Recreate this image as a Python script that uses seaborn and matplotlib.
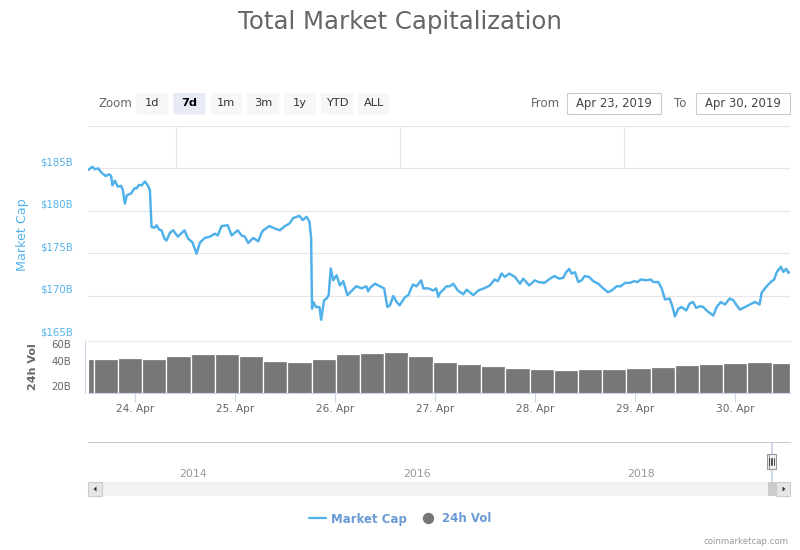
import numpy as np
import pandas as pd
import matplotlib
matplotlib.use("Agg")
import matplotlib.pyplot as plt
import matplotlib.dates as mdates
import matplotlib.patches as mpatches
from matplotlib.lines import Line2D
from matplotlib.ticker import FixedLocator, NullLocator
from matplotlib.transforms import Affine2D, blended_transform_factory, ScaledTranslation
import seaborn as sns

# ---------------- data ----------------
base_date = "2019-04-23"
mcap_hours = [12.65, 13.7, 14.3, 15.1, 15.9, 16.9, 17.7, 18.2, 18.5, 19.1,
              19.8, 20.6, 21.0, 21.5, 22.0, 23.0, 23.8, 24.3, 24.9, 25.5,
              26.3, 27.0, 27.5, 27.9, 28.6, 29.1, 29.7, 30.3, 31.0, 31.5,
              32.3, 33.1, 34.2, 35.8, 36.7, 37.7, 38.7, 39.5, 40.7, 41.9,
              43.1, 43.8, 44.7, 46.2, 47.1, 48.6, 49.5, 50.3, 51.1, 52.3,
              53.5, 54.3, 54.7, 56.2, 57.5, 58.7, 59.9, 61.0, 61.9, 63.4,
              64.2, 65.1, 65.8, 66.2, 66.4, 66.7, 67.4, 68.2, 68.6, 69.3,
              69.9, 70.4, 70.9, 71.5, 72.3, 73.1, 73.9, 74.9, 75.7, 77.0,
              78.3, 79.4, 79.9, 80.3, 81.5, 82.7, 83.7, 84.5, 85.1, 85.9,
              86.7, 87.4, 88.7, 89.5, 90.6, 91.5, 92.6, 93.1, 94.3, 95.5,
              96.2, 96.7, 97.1, 97.7, 98.7, 99.5, 100.3, 101.4, 102.7, 103.5,
              105.1, 106.3, 107.9, 109.1, 110.2, 111.0, 111.9, 112.7, 113.7, 115.1,
              116.3, 117.1, 118.5, 119.9, 120.7, 122.2, 123.5, 124.6, 125.7, 126.7,
              127.3, 128.1, 128.7, 129.5, 130.3, 131.1, 131.8, 132.9, 133.9, 135.1,
              136.3, 137.4, 138.3, 139.5, 140.5, 141.5, 142.7, 143.7, 144.5, 145.3,
              146.6, 147.7, 148.3, 149.5, 150.3, 151.1, 152.2, 152.8, 153.5, 154.3,
              155.1, 156.2, 157.0, 157.8, 158.6, 159.5, 160.3, 161.3, 162.7, 163.5,
              164.5, 165.5, 166.6, 167.5, 168.3, 169.1, 170.3, 171.5, 172.7, 173.8,
              174.3, 175.5, 176.7, 177.3, 177.9, 178.9, 179.5, 180.2, 180.7, 181.1]
mcap_values = [184.8, 185.2, 184.9, 185.0, 184.5, 184.1, 184.3, 184.1, 183.0, 183.55,
               182.85, 182.95, 182.45, 180.85, 181.85, 182.05, 182.65, 182.65, 183.05, 183.0,
               183.45, 183.0, 182.45, 178.1, 178.0, 178.3, 177.8, 177.7, 176.7, 176.5,
               177.4, 177.7, 176.95, 177.7, 176.7, 176.3, 174.95, 176.25, 176.8, 176.95,
               177.3, 177.1, 178.2, 178.3, 177.1, 177.7, 177.1, 176.95, 176.2, 176.8,
               176.4, 177.4, 177.7, 178.2, 177.9, 177.7, 178.2, 178.5, 179.15, 179.4,
               178.9, 179.3, 178.7, 176.7, 168.45, 169.25, 168.65, 168.65, 167.15, 169.45,
               169.65, 170.05, 173.2, 171.8, 172.4, 171.2, 171.7, 170.05, 170.45, 171.1,
               170.85, 171.1, 170.5, 170.9, 171.4, 171.1, 170.85, 168.65, 168.85, 169.95,
               169.25, 168.85, 169.8, 170.05, 171.3, 171.1, 171.8, 170.85, 170.85, 170.6,
               170.85, 169.85, 170.3, 170.6, 171.1, 171.1, 171.4, 170.6, 170.15, 170.7,
               170.05, 170.6, 170.9, 171.2, 171.9, 171.7, 172.6, 172.2, 172.6, 172.2,
               171.4, 172.0, 171.2, 171.8, 171.6, 171.5, 172.0, 172.3, 172.0, 172.1,
               172.7, 173.15, 172.6, 172.75, 171.6, 171.8, 172.3, 172.2, 171.7, 171.4,
               170.85, 170.4, 170.6, 171.1, 171.1, 171.5, 171.5, 171.7, 171.6, 171.9,
               171.8, 171.9, 171.6, 171.6, 170.85, 169.55, 169.65, 168.85, 167.55, 168.45,
               168.65, 168.25, 169.05, 169.25, 168.55, 168.75, 168.65, 168.15, 167.65, 168.65,
               169.25, 168.95, 169.65, 169.45, 168.85, 168.35, 168.65, 168.95, 169.25, 168.95,
               170.35, 171.1, 171.7, 171.9, 172.75, 173.4, 172.8, 173.15, 172.7, 172.75]

vol_start_hours = [12.65, 14.16, 19.92, 25.68, 31.44, 37.37, 43.13, 48.89, 54.65, 60.41,
                   66.48, 72.24, 78.0, 83.76, 89.52, 95.52, 101.28, 107.04, 112.8, 118.73,
                   124.49, 130.25, 136.0, 141.77, 147.84, 153.6, 159.36, 165.12, 170.88, 176.8]
vol_end_hour = 181.1
vol_values = [47.4, 47.0, 48.3, 47.2, 49.8, 51.0, 51.0, 50.0, 45.6, 44.8,
              47.5, 51.2, 51.7, 52.5, 49.5, 44.8, 43.2, 41.6, 40.3, 39.5,
              38.7, 39.2, 39.5, 40.0, 41.0, 42.7, 43.0, 44.0, 44.8, 44.3]

view_start_hour = 12.65
view_end_hour = 181.1
day_ticks = ["2019-04-24", "2019-04-25", "2019-04-26", "2019-04-27",
             "2019-04-28", "2019-04-29", "2019-04-30"]
mcap_ticks = [165, 170, 175, 180, 185, 190]
mcap_tick_labels = ["$165B", "$170B", "$175B", "$180B", "$185B", ""]
mcap_range = (165, 190)
vol_ticks = [20, 40, 60]
vol_tick_labels = ["20B", "40B", "60B"]
vol_range = (20, 61.6)
nav_range = ("2013-03-20", "2019-06-26")
nav_year_ticks = ["2014-01-01", "2016-01-01", "2018-01-01"]
nav_year_labels = ["2014", "2016", "2018"]
zoom_buttons = ["1d", "7d", "1m", "3m", "1y", "YTD", "ALL"]
selected_button = "7d"
range_from = "Apr 23, 2019"
range_to = "Apr 30, 2019"
title = "Total Market Capitalization"

# ---------------- style ----------------
sns.set_theme(style="white")
plt.rcParams["font.family"] = ["DejaVu Sans"]
BLUE = "#4fb0ea"
TICKBLUE = "#55b3ea"
GRAY_BAR = "#777777"
GRID = "#e6e6e6"
AXLINE = "#ccd6eb"
TXT = "#666666"

W, H = 800, 550
fig = plt.figure(figsize=(W / 100, H / 100), dpi=100)
PX = Affine2D().scale(1 / 100, -1 / 100).translate(0, H / 100) + fig.dpi_scale_trans


def box(x0, y0, x1, y1):
    return [x0 / W, 1 - y1 / H, (x1 - x0) / W, (y1 - y0) / H]


base = pd.Timestamp(base_date)


def hours_to_num(hrs):
    ts = base + pd.to_timedelta(np.asarray(hrs, dtype=float), unit="h")
    return mdates.date2num(ts.to_pydatetime())


def dates_to_num(ds):
    return mdates.date2num(pd.to_datetime(ds).to_pydatetime())


xlim = hours_to_num([view_start_hour, view_end_hour])

# ---------------- main pane ----------------
ax = fig.add_axes(box(88, 126, 790, 338))
df = pd.DataFrame({"time": hours_to_num(mcap_hours), "Market Cap": mcap_values})
sns.lineplot(data=df, x="time", y="Market Cap", ax=ax, color=BLUE,
             linewidth=1.75, sort=False, zorder=3)
ax.set_xlim(*xlim)
ax.set_ylim(*mcap_range)
ax.set_yticks(mcap_ticks)
ax.yaxis.grid(True, color=GRID, linewidth=0.8)
ax.xaxis.grid(False)
ax.tick_params(axis="y", left=False, labelleft=False)
ax.tick_params(axis="x", bottom=False, labelbottom=False)
ax.set_xlabel("")
ax.set_ylabel("")
for s in ax.spines.values():
    s.set_visible(False)
lab_tr = blended_transform_factory(ax.transAxes, ax.transData) + \
    ScaledTranslation(0, 6 / 100, fig.dpi_scale_trans)
for v, lab in zip(mcap_ticks, mcap_tick_labels):
    ax.text(-15 / 702, v, lab, transform=lab_tr, ha="right", va="center",
            color=TICKBLUE, fontsize=7.3)

# ---------------- volume pane ----------------
axv = fig.add_axes(box(88, 341, 790, 393))
vstarts = hours_to_num(vol_start_hours)
vends = hours_to_num(list(vol_start_hours[1:]) + [vol_end_hour])
axv.bar(vstarts, vol_values, width=vends - vstarts, align="edge",
        color=GRAY_BAR, edgecolor="white", linewidth=0.9)
axv.set_xlim(*xlim)
axv.set_ylim(*vol_range)
axv.yaxis.set_major_locator(NullLocator())
axv.xaxis.set_major_locator(FixedLocator(dates_to_num(day_ticks)))
axv.xaxis.set_major_formatter(mdates.DateFormatter("%d. %b"))
axv.tick_params(axis="x", bottom=True, length=6.5, width=0.8, color=AXLINE,
                labelsize=7.6, labelcolor=TXT, pad=1.5, direction="out")
axv.grid(False)
for k, s in axv.spines.items():
    s.set_visible(k in ("top", "left", "bottom"))
    s.set_linewidth(0.8)
axv.spines["top"].set_color(GRID)
axv.spines["left"].set_color(AXLINE)
axv.spines["bottom"].set_color(AXLINE)
axv.spines["left"].set_position(("outward", 2))
fig.canvas.draw()
top_px = axv.transAxes.transform((0, 1))[1]
for v, lab in zip(vol_ticks, vol_tick_labels):
    ypix = axv.transData.transform((xlim[0], v))[1] + 6
    ypix = min(ypix, top_px - 4)
    fig.text(71 / W, ypix / H, lab, ha="right", va="center", color=TXT, fontsize=7.3)

# ---------------- axis titles ----------------
fig.text(22.5, 234.5, "Market Cap", transform=PX, rotation=90, ha="center",
         va="center", color=TICKBLUE, fontsize=9.2)
fig.text(33.5, 366.5, "24h Vol", transform=PX, rotation=90, ha="center",
         va="center", color=TXT, fontsize=8.0, fontweight="bold")

# ---------------- navigator ----------------
axn = fig.add_axes(box(88, 442, 790, 482))
nav_lim = dates_to_num(list(nav_range))
axn.set_xlim(*nav_lim)
axn.set_ylim(0, 1)
axn.set_xticks([])
axn.set_yticks([])
for k, s in axn.spines.items():
    s.set_visible(k == "top")
axn.spines["top"].set_color("#cccccc")
axn.spines["top"].set_linewidth(0.8)
yr_nums = dates_to_num(nav_year_ticks)
yr_tr = blended_transform_factory(axn.transData, axn.transAxes) + \
    ScaledTranslation(3 / 100, 0, fig.dpi_scale_trans)
for xn, lab in zip(yr_nums, nav_year_labels):
    axn.text(xn, 0.2, lab, transform=yr_tr, ha="left", va="center",
             color="#999999", fontsize=7.8)
sel = dates_to_num([base + pd.Timedelta(hours=view_start_hour),
                    base + pd.Timedelta(hours=view_end_hour)])
axn.axvspan(sel[0], sel[1], color="#6685c2", alpha=0.3, lw=0)

# navigator year grid lines bleeding into the top of the main pane
axg = fig.add_axes(box(88, 127, 790, 168))
axg.set_xlim(*nav_lim)
axg.set_ylim(0, 1)
axg.axis("off")
for xn in yr_nums:
    axg.axvline(xn, color=GRID, linewidth=0.8)

fig.canvas.draw()
sel_px = [axn.transData.transform((s, 0))[0] for s in sel]

# ---------------- scrollbar ----------------
def rect(x0, y0, x1, y1, fc, ec="none", lw=0.8, z=5):
    p = mpatches.Rectangle((x0, y0), x1 - x0, y1 - y0, transform=PX,
                           facecolor=fc, edgecolor=ec, linewidth=lw, zorder=z)
    fig.patches.append(p)
    return p

rect(88, 482, 790, 496, "#f2f2f2")
cx = (sel_px[0] + sel_px[1]) / 2
rect(cx - 4, 482, cx + 4, 496, "#cccccc")
rect(88, 482, 102, 496, "#e6e6e6", "#cccccc")
rect(776, 482, 790, 496, "#e6e6e6", "#cccccc")
fig.patches.append(mpatches.Polygon([(96.5, 486.5), (96.5, 491.5), (93.5, 489)],
                                    closed=True, transform=PX, facecolor="#333333",
                                    edgecolor="none", zorder=6))
fig.patches.append(mpatches.Polygon([(782.5, 486.5), (782.5, 491.5), (785.5, 489)],
                                    closed=True, transform=PX, facecolor="#333333",
                                    edgecolor="none", zorder=6))
# handles
for hx in sel_px:
    rect(hx - 3.5, 454, hx + 3.5, 469, "#f2f2f2", "#999999", 0.8, z=7)
    for gx in (-1.2, 1.2):
        fig.lines.append(Line2D([hx + gx, hx + gx], [458, 465], transform=PX,
                                color="#333333", linewidth=0.6, zorder=8))

# ---------------- range selector ----------------
fig.text(115.5, 103.5, "Zoom", transform=PX, ha="center", va="center",
         color=TXT, fontsize=8.5)
bx = 136.5
for lab in zoom_buttons:
    is_sel = lab == selected_button
    p = mpatches.FancyBboxPatch((bx, 93), 32, 21.5, transform=PX,
                                boxstyle="round,pad=0,rounding_size=2",
                                facecolor="#e6ebf5" if is_sel else "#f7f7f7",
                                edgecolor="none", zorder=5)
    fig.patches.append(p)
    fig.text(bx + 16, 103.5, lab, transform=PX, ha="center", va="center",
             color="#000000" if is_sel else "#333333", fontsize=8.2,
             fontweight="bold" if is_sel else "normal", zorder=6)
    bx += 36.9

fig.text(545.5, 103.5, "From", transform=PX, ha="center", va="center",
         color=TXT, fontsize=8.5)
rect(567, 93, 661, 114, "white", "#cccccc", 0.8)
fig.text(614, 103.5, range_from, transform=PX, ha="center", va="center",
         color="#444444", fontsize=8.4, zorder=6)
fig.text(680.5, 103.5, "To", transform=PX, ha="center", va="center",
         color=TXT, fontsize=8.5)
rect(696, 93, 790, 114, "white", "#cccccc", 0.8)
fig.text(743, 103.5, range_to, transform=PX, ha="center", va="center",
         color="#444444", fontsize=8.4, zorder=6)

# ---------------- title ----------------
fig.text(400, 22, title, transform=PX, ha="center", va="center",
         color=TXT, fontsize=17.6)

# ---------------- legend ----------------
handles = [Line2D([], [], color=BLUE, linewidth=1.6),
           Line2D([], [], color="none", marker="o", markersize=8.2,
                  markerfacecolor=GRAY_BAR, markeredgecolor="none")]
leg = fig.legend(handles, ["Market Cap", "24h Vol"], loc="center",
                 bbox_to_anchor=(400 / W, 1 - 519 / H), ncol=2, frameon=False,
                 handlelength=1.4, handletextpad=0.45, columnspacing=1.1,
                 prop={"size": 8.5, "weight": "bold"}, labelcolor="#6a9ad4")

# ---------------- credits ----------------
fig.text(789, 541.5, "coinmarketcap.com", transform=PX, ha="right", va="center",
         color="#999999", fontsize=6.2)

fig.savefig("out.png", dpi=100)
